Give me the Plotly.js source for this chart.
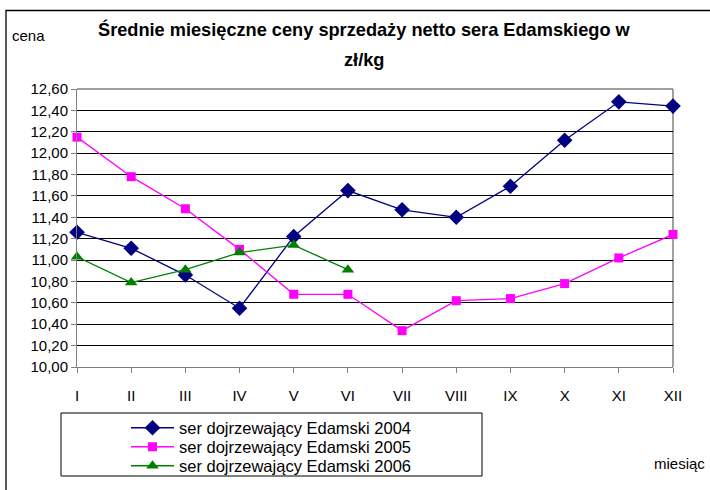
<!DOCTYPE html>
<html>
<head>
<meta charset="utf-8">
<script src="https://cdn.plot.ly/plotly-3.0.1.min.js"></script>
<style>html,body{margin:0;padding:0;background:#fff;}#chart{width:710px;height:490px;}</style>
</head>
<body>
<div id="chart"></div>
<script>
const months = ['I','II','III','IV','V','VI','VII','VIII','IX','X','XI','XII'];
const ser2004 = [11.26, 11.11, 10.86, 10.55, 11.22, 11.65, 11.47, 11.40, 11.69, 12.12, 12.48, 12.44];
const ser2005 = [12.15, 11.78, 11.48, 11.10, 10.68, 10.68, 10.34, 10.62, 10.64, 10.78, 11.02, 11.24];
const ser2006 = [11.03, 10.79, 10.91, 11.07, 11.14, 10.91];
const names = ['ser dojrzewający Edamski 2004', 'ser dojrzewający Edamski 2005', 'ser dojrzewający Edamski 2006'];
const yTicks = [10.0,10.2,10.4,10.6,10.8,11.0,11.2,11.4,11.6,11.8,12.0,12.2,12.4,12.6];

const W = 710, H = 490;
const L = 77, R = 673, T = 89, B = 367;
const px = x => (x - L) / (R - L);
const py = y => (B - y) / (B - T);
const FONT = 'Liberation Sans, Arial, sans-serif';

const traces = [
  {x: months, y: ser2004, name: names[0], type: 'scatter', mode: 'lines+markers', cliponaxis: false, legend: 'legend',
   line: {color: '#000080', width: 1.3}, marker: {symbol: 'diamond', size: 12, color: '#000080'}},
  {x: months, y: ser2005, name: names[1], type: 'scatter', mode: 'lines+markers', cliponaxis: false, legend: 'legend2',
   line: {color: '#FF00FF', width: 1.3}, marker: {symbol: 'square', size: 9, color: '#FF00FF'}},
  {x: months.slice(0, ser2006.length), y: ser2006, name: names[2], type: 'scatter', mode: 'lines+markers', cliponaxis: false, legend: 'legend3',
   line: {color: '#008000', width: 1.3}, marker: {symbol: 'triangle-up', size: 11, color: '#008000'}}
];

function leg(yc) {
  return {x: px(126), y: py(yc), xanchor: 'left', yanchor: 'middle',
          bgcolor: 'rgba(0,0,0,0)', borderwidth: 0, itemwidth: 43,
          font: {family: FONT, size: 16.5, color: '#000'}};
}

const layout = {
  width: W, height: H,
  margin: {l: L, r: W - R, t: T, b: H - B, pad: 0, autoexpand: false},
  paper_bgcolor: '#fff', plot_bgcolor: '#fff',
  separators: ',.',
  font: {family: FONT, size: 15, color: '#000'},
  showlegend: true,
  legend: leg(428), legend2: leg(447), legend3: leg(466),
  xaxis: {type: 'category', range: [0, 11], showgrid: false, zeroline: false,
          showline: true, linecolor: '#808080', linewidth: 1, mirror: false,
          ticks: 'outside', ticklen: 5, tickcolor: '#808080', ticklabelstandoff: 10,
          tickfont: {family: FONT, size: 15, color: '#000'}, fixedrange: true},
  yaxis: {range: [10, 12.6], tickvals: yTicks, tickformat: '.2f',
          showgrid: true, gridcolor: '#000', gridwidth: 1, zeroline: false,
          showline: true, linecolor: '#808080', linewidth: 1,
          ticks: 'outside', ticklen: 5, tickcolor: '#808080',
          tickfont: {family: FONT, size: 15, color: '#000'}, fixedrange: true},
  shapes: [
    {type: 'rect', xref: 'paper', yref: 'paper', x0: px(6), x1: px(740), y0: py(520), y1: py(10.5),
     line: {color: '#000', width: 1.3}, fillcolor: 'rgba(0,0,0,0)', layer: 'below'},
    {type: 'line', xref: 'paper', yref: 'paper', x0: 0, x1: 1, y0: 1, y1: 1, line: {color: '#808080', width: 1.5}, layer: 'below'},
    {type: 'line', xref: 'paper', yref: 'paper', x0: 1, x1: 1, y0: 0, y1: 1, line: {color: '#808080', width: 1.5}, layer: 'below'},
    {type: 'rect', xref: 'paper', yref: 'paper', x0: px(61), x1: px(482), y0: py(476), y1: py(413),
     line: {color: '#000', width: 1}, fillcolor: 'rgba(0,0,0,0)'}
  ],
  annotations: [
    {text: '<b>Średnie miesięczne ceny sprzedaży netto sera Edamskiego w</b>', xref: 'paper', yref: 'paper',
     x: px(364), y: py(29), xanchor: 'center', yanchor: 'middle', showarrow: false,
     font: {family: FONT, size: 18.2, color: '#000'}},
    {text: '<b>zł/kg</b>', xref: 'paper', yref: 'paper',
     x: px(364), y: py(60), xanchor: 'center', yanchor: 'middle', showarrow: false,
     font: {family: FONT, size: 18.2, color: '#000'}},
    {text: 'cena', xref: 'paper', yref: 'paper', x: px(10), y: py(35), xanchor: 'left', yanchor: 'middle',
     showarrow: false, font: {family: FONT, size: 15, color: '#000'}},
    {text: 'miesiąc', xref: 'paper', yref: 'paper', x: px(707), y: py(463), xanchor: 'right', yanchor: 'middle',
     showarrow: false, font: {family: FONT, size: 15, color: '#000'}}
  ]
};

Plotly.newPlot('chart', traces, layout, {displayModeBar: false, staticPlot: true});
</script>
</body>
</html>
